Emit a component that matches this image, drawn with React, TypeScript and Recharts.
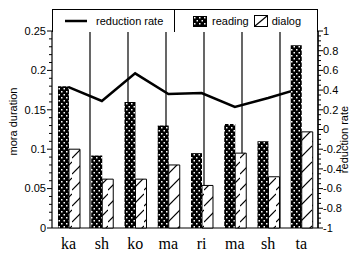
import React from 'react';
import { ComposedChart, Bar, Line, XAxis, YAxis, Legend, ReferenceLine } from 'recharts';

const categories = ['ka', 'sh', 'ko', 'ma', 'ri', 'ma', 'sh', 'ta'];
const readingDuration = [0.18, 0.092, 0.16, 0.13, 0.095, 0.132, 0.11, 0.232];
const dialogDuration = [0.1, 0.062, 0.062, 0.08, 0.054, 0.095, 0.065, 0.122];
const reductionRate = [0.43, 0.29, 0.57, 0.36, 0.37, 0.23, 0.32, 0.42];

const leftTicks = [0, 0.05, 0.1, 0.15, 0.2, 0.25];
const rightTicks = [-1, -0.8, -0.6, -0.4, -0.2, 0, 0.2, 0.4, 0.6, 0.8, 1];

// minor ticks between the labelled ones
const leftMinor = Array.from({ length: 26 }, (_, i) => +(i * 0.01).toFixed(2));
const rightMinor = Array.from({ length: 41 }, (_, i) => +(-1 + i * 0.05).toFixed(2));

const data = categories.map((c, i) => ({
  name: c,
  reading: readingDuration[i],
  dialog: dialogDuration[i],
  rate: reductionRate[i],
}));

const SANS = '"Liberation Sans", Arial, sans-serif';
const SERIF = '"Liberation Serif", "Times New Roman", serif';

const isMajor = (list: number[], v: number) => list.some((t) => Math.abs(t - v) < 1e-9);

const Patterns = ({ prefix }: { prefix: string }) => (
  <defs>
    <pattern id={`${prefix}dots`} width="5" height="6" patternUnits="userSpaceOnUse">
      <rect width="5" height="6" fill="#000" />
      <rect x="1" y="1" width="1.5" height="1.5" fill="#fff" />
      <rect x="3.5" y="4" width="1.5" height="1.5" fill="#fff" />
    </pattern>
    <pattern id={`${prefix}hatch`} width="12" height="16" patternUnits="userSpaceOnUse">
      <rect width="12" height="16" fill="#fff" />
      <line x1="0" y1="14" x2="12" y2="2" stroke="#000" strokeWidth="1.2" />
    </pattern>
  </defs>
);

const LeftTick = (props: any) => {
  const { x, y, payload } = props;
  const major = isMajor(leftTicks, payload.value);
  return (
    <g>
      <line x1={x - (major ? 5 : 3)} x2={x} y1={y} y2={y} stroke="#000" strokeWidth={1} />
      {major && (
        <text x={x - 6} y={y} dy="0.35em" textAnchor="end" fontFamily={SANS} fontSize={11} fill="#000">
          {String(payload.value)}
        </text>
      )}
    </g>
  );
};

const RightTick = (props: any) => {
  const { x, y, payload } = props;
  const major = isMajor(rightTicks, payload.value);
  return (
    <g>
      <line x1={x} x2={x + (major ? 5 : 3)} y1={y} y2={y} stroke="#000" strokeWidth={1} />
      {major && (
        <text x={x + 5} y={y} dy="0.35em" textAnchor="start" fontFamily={SANS} fontSize={11} fill="#000">
          {String(payload.value)}
        </text>
      )}
    </g>
  );
};

const LegendBox = ({ payload }: any) => {
  const find = (key: string) => (payload || []).find((p: any) => p.dataKey === key);
  const rate = find('rate');
  const reading = find('reading');
  const dialog = find('dialog');
  return (
    <div
      style={{
        width: 266,
        height: 23,
        boxSizing: 'border-box',
        border: '1px solid #000',
        borderBottom: 'none',
        display: 'flex',
        fontFamily: SANS,
        fontSize: 11,
        color: '#000',
        background: '#fff',
      }}
    >
      <div style={{ width: 121, borderRight: '1px solid #000', display: 'flex', alignItems: 'center' }}>
        <svg width={22} height={4} style={{ marginLeft: 12 }}>
          <line x1={0} x2={22} y1={2} y2={2} stroke="#000" strokeWidth={2.5} />
        </svg>
        <span style={{ marginLeft: 9 }}>{rate ? rate.value : 'reduction rate'}</span>
      </div>
      <div style={{ flex: 1, display: 'flex', alignItems: 'center' }}>
        <svg width={14} height={11} style={{ marginLeft: 18 }}>
          <Patterns prefix="lg-" />
          <rect x={0.5} y={0.5} width={13} height={10} fill="url(#lg-dots)" stroke="#000" />
        </svg>
        <span style={{ marginLeft: 5 }}>{reading ? reading.value : 'reading'}</span>
        <svg width={14} height={12} style={{ marginLeft: 5 }}>
          <rect x={0.5} y={0.5} width={13} height={11} fill="#fff" stroke="#000" />
          <line x1={1} y1={11} x2={13} y2={1} stroke="#000" strokeWidth={1.2} />
        </svg>
        <span style={{ marginLeft: 4 }}>{dialog ? dialog.value : 'dialog'}</span>
      </div>
    </div>
  );
};

const App: React.FC = () => {
  return (
    <div style={{ position: 'absolute', left: 0, top: 0, width: 350, height: 254, background: '#fff' }}>
      <ComposedChart
        width={350}
        height={254}
        data={data}
        margin={{ top: 31, right: 0, bottom: 0, left: 0 }}
        barCategoryGap="18%"
        barGap={0}
      >
        <Patterns prefix="" />
        <XAxis
          dataKey="name"
          height={26}
          interval={0}
          tickLine={false}
          tickSize={0}
          tickMargin={10}
          axisLine={{ stroke: '#000', strokeWidth: 1.2 }}
          tick={{ fontFamily: SERIF, fontSize: 16, fill: '#000' }}
        />
        <XAxis xAxisId="grid" type="number" domain={[0, categories.length]} allowDataOverflow hide />
        <YAxis
          yAxisId="left"
          orientation="left"
          width={52}
          domain={[0, 0.25]}
          ticks={leftMinor}
          interval={0}
          tickSize={0}
          tickMargin={0}
          tickLine={false}
          axisLine={{ stroke: '#000', strokeWidth: 1.2 }}
          tick={<LeftTick />}
          label={(p: any) => {
            const vb = p.viewBox || { x: 0, y: 31, width: 52, height: 197 };
            const lx = vb.x + 17;
            const ly = vb.y + vb.height / 2 - 8;
            return (
              <text
                x={lx}
                y={ly}
                transform={`rotate(-90, ${lx}, ${ly})`}
                textAnchor="middle"
                fontFamily={SANS}
                fontSize={11}
                fill="#000"
              >
                mora duration
              </text>
            );
          }}
        />
        <YAxis
          yAxisId="right"
          orientation="right"
          width={32}
          domain={[-1, 1]}
          ticks={rightMinor}
          interval={0}
          tickSize={0}
          tickMargin={0}
          tickLine={false}
          axisLine={{ stroke: '#000', strokeWidth: 1.2 }}
          tick={<RightTick />}
          label={(p: any) => {
            const vb = p.viewBox || { x: 318, y: 31, width: 32, height: 197 };
            const lx = vb.x + 30;
            const ly = vb.y + vb.height / 2 + 10;
            return (
              <text
                x={lx}
                y={ly}
                transform={`rotate(-90, ${lx}, ${ly})`}
                textAnchor="middle"
                fontFamily={SANS}
                fontSize={11}
                fill="#000"
              >
                reduction rate
              </text>
            );
          }}
        />
        <ReferenceLine yAxisId="left" y={0.25} stroke="#000" strokeWidth={1.2} />
        {categories.slice(1).map((_, i) => (
          <ReferenceLine
            key={i}
            xAxisId="grid"
            yAxisId="left"
            x={i + 1}
            stroke="#000"
            strokeWidth={1.2}
          />
        ))}
        <Line
          yAxisId="right"
          dataKey="rate"
          name="reduction rate"
          type="linear"
          stroke="#000"
          strokeWidth={2.5}
          dot={false}
          activeDot={false}
          isAnimationActive={false}
        />
        <Bar
          yAxisId="left"
          dataKey="reading"
          name="reading"
          fill="url(#dots)"
          zIndex={500}
          isAnimationActive={false}
        />
        <Bar
          yAxisId="left"
          dataKey="dialog"
          name="dialog"
          fill="url(#hatch)"
          stroke="#000"
          strokeWidth={1}
          zIndex={500}
          isAnimationActive={false}
        />
        <Legend
          layout="vertical"
          align="center"
          verticalAlign="middle"
          content={<LegendBox />}
          wrapperStyle={{ position: 'absolute', top: 9, left: 52, width: 266, height: 23 }}
        />
      </ComposedChart>
    </div>
  );
};

export default App;
